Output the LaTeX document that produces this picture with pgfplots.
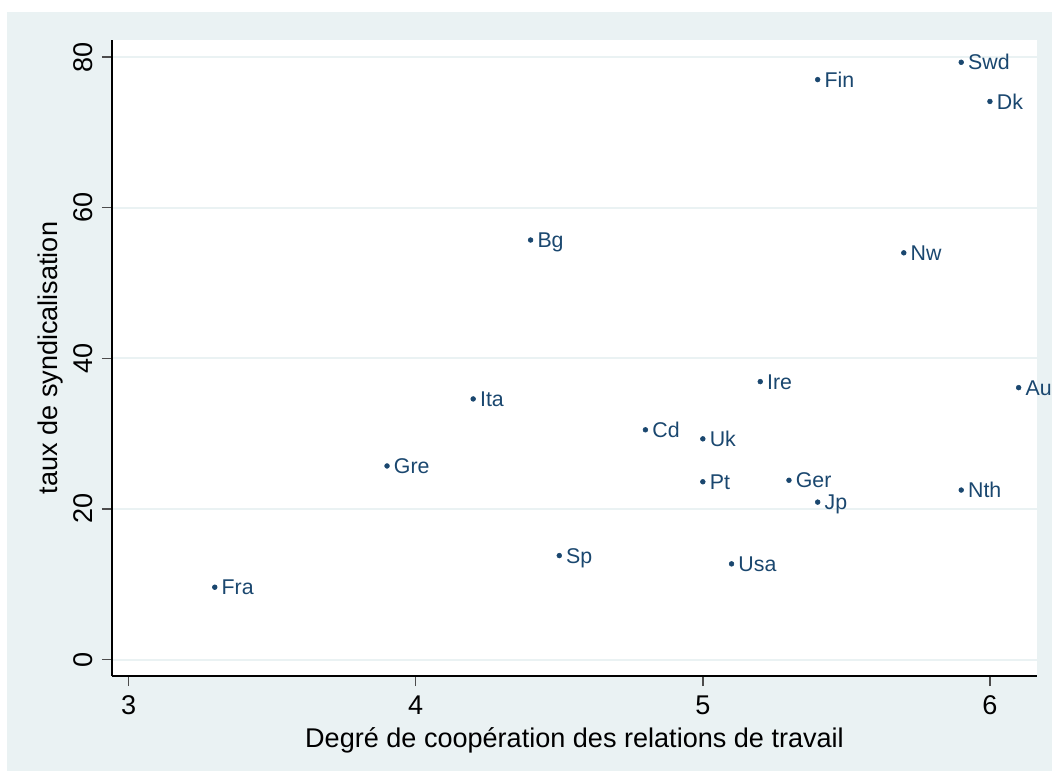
\documentclass[border=0pt]{standalone}
\usepackage{fontspec}
\setmainfont{Liberation Sans}
\usepackage{pgfplots}
\usepackage{pgfplotstable}
\pgfplotsset{compat=1.18}

\definecolor{stbg}{HTML}{EAF2F3}
\definecolor{stnavy}{HTML}{1A476F}

% cooperation degree vs union density
\pgfplotstableread{
x   y    lab
3.3 9.6  Fra
3.9 25.7 Gre
4.2 34.6 Ita
4.4 55.7 Bg
4.5 13.8 Sp
4.8 30.5 Cd
5.0 29.3 Uk
5.0 23.6 Pt
5.1 12.7 Usa
5.2 36.9 Ire
5.3 23.8 Ger
5.4 20.9 Jp
5.4 77.0 Fin
5.7 54.0 Nw
5.9 79.3 Swd
6.0 74.1 Dk
5.9 22.5 Nth
6.1 36.1 Au
}\unions

\begin{document}
\begin{tikzpicture}
\path[use as bounding box, fill=white] (-84pt,-72pt) rectangle (705pt,507pt);
\fill[stbg] (-78.75pt,-71.25pt) rectangle (705pt,498pt);
\begin{axis}[
  at={(0,0)}, anchor=south west,
  scale only axis,
  width=693.75pt, height=477pt,
  xmin=2.942, xmax=6.164,
  ymin=-2.19, ymax=82.26,
  xtick={3,4,5,6}, ytick={0,20,40,60,80},
  axis x line*=bottom, axis y line*=left,
  axis line style={-, line width=1.2pt, black},
  axis background/.style={fill=white},
  tick align=outside,
  major tick length=7.5pt,
  tick style={line width=1pt, black!70},
  ymajorgrids,
  major grid style={stbg, line width=1.5pt},
  /pgf/number format/assume math mode=true,
  tick label style={font=\fontsize{20.3}{24}\selectfont},
  xticklabel style={anchor=north, yshift=-4pt},
  yticklabel style={xshift=-3.5pt, rotate=90, anchor=south},
  label style={font=\fontsize{20.3}{24}\selectfont},
  xlabel={Degré de coopération des relations de travail},
  ylabel={taux de syndicalisation},
  xlabel style={at={([yshift=-48pt]axis description cs:0.5,0)}, anchor=center},
  ylabel style={at={([xshift=-46pt]axis description cs:0,0.5)}, anchor=center},
  clip=false,
]
\addplot[only marks, mark=*, mark size=1.8pt, color=stnavy,
  nodes near coords, point meta=explicit symbolic,
  nodes near coords style={anchor=base west, inner sep=0pt, xshift=5pt, yshift=-5.7pt,
    font=\fontsize{16}{19}\selectfont, text=stnavy}]
  table[x=x, y=y, meta=lab] {\unions};
\end{axis}
\end{tikzpicture}
\end{document}
